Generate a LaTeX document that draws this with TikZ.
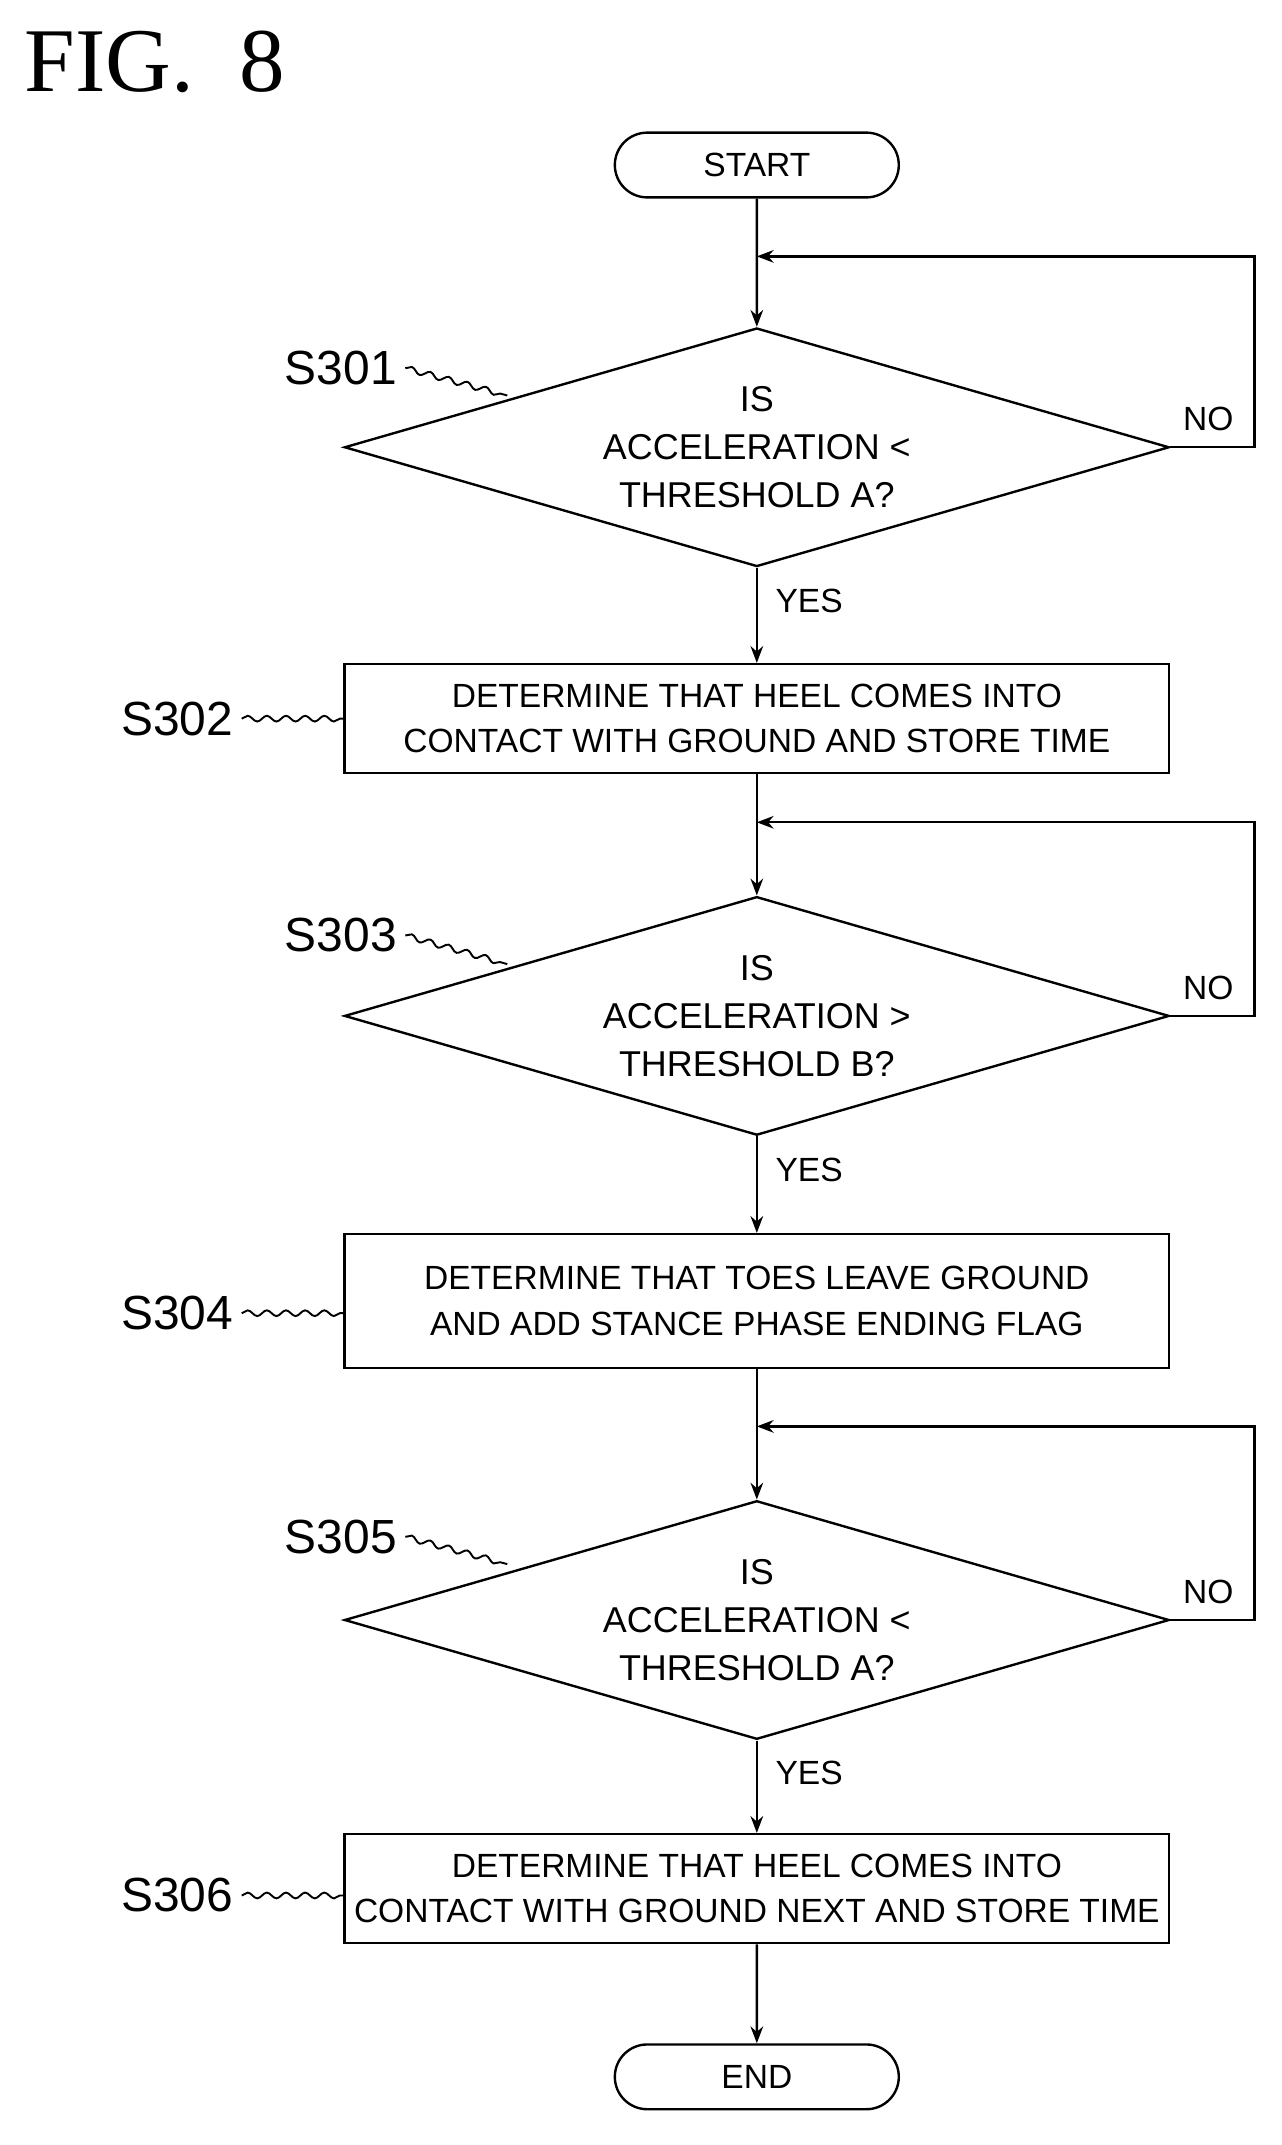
\documentclass[tikz,border=0pt]{standalone}
\usepackage{fontspec}
\setmainfont{Liberation Sans}
\newfontfamily\figfont{Liberation Serif}
\usetikzlibrary{shapes.geometric,shapes.misc,arrows.meta,decorations.pathmorphing,positioning}
\tikzset{
  term/.style={draw,rounded rectangle,minimum width=4.4cm,minimum height=0.95cm,line width=1pt},
  decide/.style={draw,diamond,aspect=3.5,minimum width=12.1cm,minimum height=3.5cm,inner sep=0pt,align=center,line width=1pt,font=\fontsize{15}{20}\selectfont},
  proc/.style={draw,minimum width=12.1cm,align=center,line width=1pt,font=\fontsize{14}{19}\selectfont},
  flow/.style={-{Stealth[length=7pt]},line width=1pt},
  wave/.style={decorate,decoration={snake,amplitude=1.2pt,segment length=8pt},line width=0.8pt},
  steplbl/.style={font=\fontsize{20}{22}\selectfont},
  ans/.style={font=\fontsize{14}{16}\selectfont}
}
\begin{document}
\begin{tikzpicture}[x=0.02cm,y=-0.02cm,font=\fontsize{14}{19}\selectfont]
		\useasboundingbox (0,0) rectangle (940,1573);
		\node[font=\fontsize{38}{42}\selectfont\figfont,anchor=west] (fig) at (12,45) {FIG.\ \ 8};
		%terminals and steps
		\node[term] (start) at (555,121) {START};
		\node[decide] (d1) at (555,328) {IS\\ACCELERATION <\\THRESHOLD A?};
		\node[proc,minimum height=1.6cm] (b1) at (555,527) {DETERMINE THAT HEEL COMES INTO\\CONTACT WITH GROUND AND STORE TIME};
		\node[decide] (d2) at (555,745) {IS\\ACCELERATION >\\THRESHOLD B?};
		\node[proc,minimum height=1.96cm] (b2) at (555,954) {DETERMINE THAT TOES LEAVE GROUND\\AND ADD STANCE PHASE ENDING FLAG};
		\node[decide] (d3) at (555,1188) {IS\\ACCELERATION <\\THRESHOLD A?};
		\node[proc,minimum height=1.6cm] (b3) at (555,1385) {DETERMINE THAT HEEL COMES INTO\\CONTACT WITH GROUND NEXT AND STORE TIME};
		\node[term] (end) at (555,1523) {END};
		%loop entry points
		\coordinate (j1) at (555,188);
		\coordinate (j2) at (555,603);
		\coordinate (j3) at (555,1046);
		\coordinate (r1) at (920,188);
		\coordinate (r2) at (920,603);
		\coordinate (r3) at (920,1046);
		\draw[flow] (start) -- (d1);
		\draw[flow] (d1) -- (b1) node[ans,pos=0.35,right=4pt] {YES};
		\draw[flow] (b1) -- (d2);
		\draw[flow] (d2) -- (b2) node[ans,pos=0.35,right=4pt] {YES};
		\draw[flow] (b2) -- (d3);
		\draw[flow] (d3) -- (b3) node[ans,pos=0.35,right=4pt] {YES};
		\draw[flow] (b3) -- (end);
		\draw[flow] (d1.east) -- (d1.east -| r1) node[ans,pos=0.45,above=3pt] {NO} -- (r1) -- (j1);
		\draw[flow] (d2.east) -- (d2.east -| r2) node[ans,pos=0.45,above=3pt] {NO} -- (r2) -- (j2);
		\draw[flow] (d3.east) -- (d3.east -| r3) node[ans,pos=0.45,above=3pt] {NO} -- (r3) -- (j3);
		%step labels
		\node[steplbl] (s301) at (250,270) {S301};
		\node[steplbl] (s302) at (130,527) {S302};
		\node[steplbl] (s303) at (250,686) {S303};
		\node[steplbl] (s304) at (130,963) {S304};
		\node[steplbl] (s305) at (250,1127) {S305};
		\node[steplbl] (s306) at (130,1390) {S306};
		\draw[wave] (s301.east) -- (372,290);
		\draw[wave] (s302.east) -- (b1.west);
		\draw[wave] (s303.east) -- (372,707);
		\draw[wave] (s304.east) -- (b2.west |- s304);
		\draw[wave] (s305.east) -- (372,1147);
		\draw[wave] (s306.east) -- (b3.west |- s306);
\end{tikzpicture}
\end{document}
